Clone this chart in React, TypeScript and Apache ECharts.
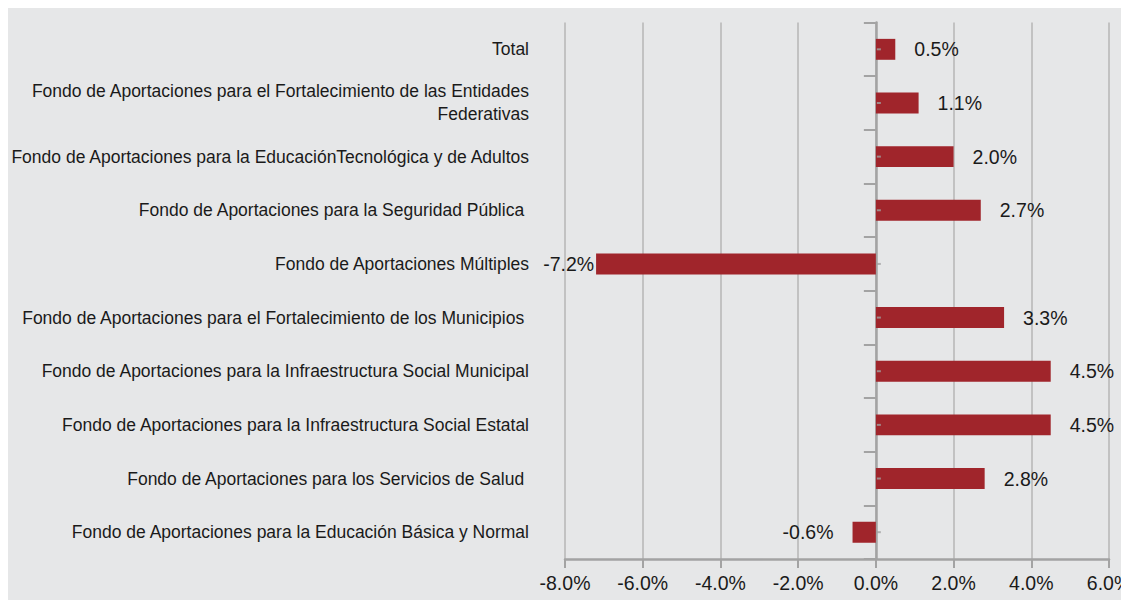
import React, { useEffect, useRef } from "react";
import * as echarts from "echarts";

const categories: string[] = [
  "Total",
  "Fondo de Aportaciones para el Fortalecimiento de las Entidades\nFederativas",
  "Fondo de Aportaciones para la EducaciónTecnológica y de Adultos",
  "Fondo de Aportaciones para la Seguridad Pública ",
  "Fondo de Aportaciones Múltiples",
  "Fondo de Aportaciones para el Fortalecimiento de los Municipios ",
  "Fondo de Aportaciones para la Infraestructura Social Municipal",
  "Fondo de Aportaciones para la Infraestructura Social Estatal",
  "Fondo de Aportaciones para los Servicios de Salud ",
  "Fondo de Aportaciones para la Educación Básica y Normal",
];

const values: number[] = [0.5, 1.1, 2.0, 2.7, -7.2, 3.3, 4.5, 4.5, 2.8, -0.6];

const xMin = -8;
const xMax = 6;
const xStep = 2;

const FONT = "'Liberation Sans', Arial, Helvetica, sans-serif";
const BAR = "#a0252b";
const AXIS = "#a3a3a3";
const GRID = "#c2c2c2";
const TEXT = "#1a1a1a";

export default function App() {
  const ref = useRef<HTMLDivElement>(null);

  useEffect(() => {
    document.body.style.overflow = "hidden";
    if (!ref.current) return;
    const chart = echarts.init(ref.current, undefined, { renderer: "svg" });
    chart.setOption({
      animation: false,
      backgroundColor: "#e6e7e8",
      grid: {
        left: 557,
        right: 20,
        top: 14.5,
        bottom: 41,
        containLabel: false,
        outerBoundsMode: "none",
      },
      xAxis: {
        type: "value",
        min: xMin,
        max: xMax,
        interval: xStep,
        axisLine: { show: true, lineStyle: { color: AXIS, width: 2.5 } },
        axisTick: { show: true, length: 9, lineStyle: { color: AXIS, width: 2 } },
        splitLine: { show: true, lineStyle: { color: GRID, width: 2 } },
        axisLabel: {
          margin: 14,
          fontFamily: FONT,
          fontSize: 19.5,
          color: TEXT,
          formatter: (v: number) => v.toFixed(1) + "%",
        },
      },
      yAxis: [
        {
          type: "category",
          data: categories,
          inverse: true,
          position: "left",
          axisLine: { show: false, onZero: false },
          axisTick: { show: false },
          splitLine: { show: false },
          axisLabel: {
            margin: 36,
            fontFamily: FONT,
            fontSize: 17.5,
            lineHeight: 23,
            color: TEXT,
            align: "right",
          },
        },
        {
          type: "category",
          data: categories,
          inverse: true,
          position: "left",
          axisLine: { show: true, onZero: true, lineStyle: { color: AXIS, width: 2.5 } },
          axisTick: { show: true, length: 12, inside: false, lineStyle: { color: AXIS, width: 2 } },
          axisLabel: { show: false },
          splitLine: { show: false },
        },
      ],
      series: [
        {
          type: "bar",
          yAxisIndex: 0,
          data: values.map((v) => ({
            value: v,
            label: {
              position: v >= 0 ? "right" : "left",
              distance: v < -5 ? 2 : 19,
            },
          })),
          barCategoryGap: "61%",
          itemStyle: { color: BAR },
          z: 2,
          label: {
            show: true,
            fontFamily: FONT,
            fontSize: 19.5,
            color: TEXT,
            formatter: (p: any) => Number(p.value).toFixed(1) + "%",
          },
        },
        {
          type: "scatter",
          yAxisIndex: 0,
          silent: true,
          symbol: "rect",
          symbolSize: [4, 2],
          symbolOffset: [3, 0],
          itemStyle: { color: AXIS },
          z: 4,
          data: categories.map((c) => [0, c]),
        },
      ],
    });
    return () => chart.dispose();
  }, []);

  return <div ref={ref} style={{ width: 1121, height: 592 }} />;
}
